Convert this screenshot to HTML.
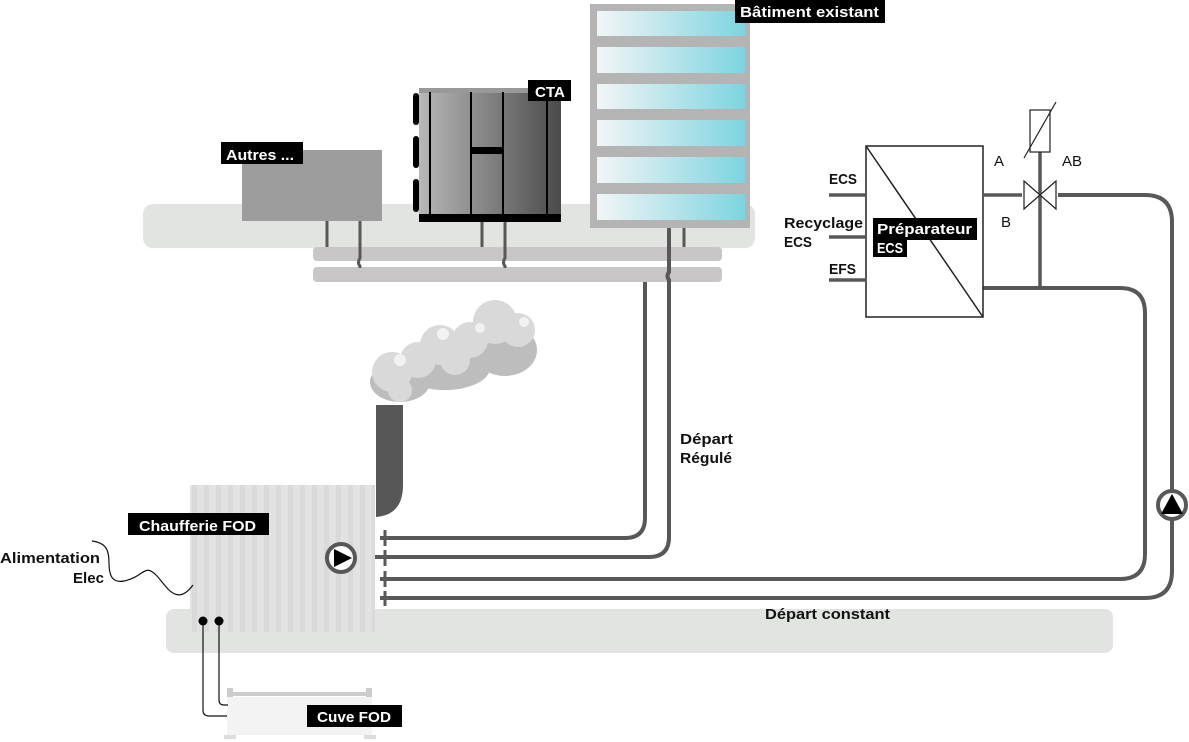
<!DOCTYPE html>
<html><head><meta charset="utf-8"><style>
html,body{margin:0;padding:0;background:#fff;}
svg{display:block;font-family:"Liberation Sans",sans-serif;}
.lb{fill:#fff;font-weight:bold;font-size:15px;}
.tk{fill:#111;font-weight:bold;font-size:15px;}
.p{fill:none;stroke:#585858;stroke-width:4;}
</style></head><body>
<svg width="1189" height="742" viewBox="0 0 1189 742" xmlns="http://www.w3.org/2000/svg">
<defs>
<linearGradient id="win" x1="0" x2="1"><stop offset="0" stop-color="#f3f5f6"/><stop offset="1" stop-color="#7dd4e0"/></linearGradient>
<linearGradient id="cta" x1="0" x2="1"><stop offset="0" stop-color="#b8b8b8"/><stop offset="1" stop-color="#4a4a4a"/></linearGradient>
<pattern id="str" width="12" height="10" patternUnits="userSpaceOnUse"><rect width="12" height="10" fill="#e2e2e2"/><rect width="5" height="10" fill="#dadada"/></pattern>
</defs>
<rect x="143" y="204" width="612" height="44" rx="10" fill="#e1e4e1"/>
<rect x="166" y="609" width="947" height="44" rx="8" fill="#e1e4e1"/>
<rect x="313" y="247" width="409" height="14" rx="4" fill="#c8c6c7"/>
<rect x="313" y="267" width="409" height="15" rx="4" fill="#c8c6c7"/>
<rect x="242" y="150" width="140" height="71" fill="#9d9d9d"/>
<path class="p" d="M327 221V247M360 221V258q-3 5 0 8V268" style="stroke-width:3"/>
<rect x="221" y="142" width="82" height="22" fill="#000"/>
<text x="226" y="160" class="lb" textLength="68" lengthAdjust="spacingAndGlyphs">Autres ...</text>
<rect x="419" y="88" width="142" height="134" fill="url(#cta)"/>
<rect x="419" y="88" width="142" height="5" fill="#999"/>
<rect x="413" y="93" width="6" height="32" rx="3" fill="#000"/>
<rect x="413" y="136" width="6" height="32" rx="3" fill="#000"/>
<rect x="413" y="179" width="6" height="33" rx="3" fill="#000"/>
<path d="M430 92V214M471 92V214M503 92V214M547 92V214" stroke="#000" stroke-width="2"/>
<rect x="471" y="147" width="32" height="7" fill="#000"/>
<rect x="419" y="214" width="142" height="8" fill="#000"/>
<path class="p" d="M482 222V247M505 222V258q-3 5 0 8V268" style="stroke-width:3"/>
<rect x="528" y="80" width="43" height="21" fill="#000"/>
<text x="535" y="97" class="lb" textLength="30" lengthAdjust="spacingAndGlyphs">CTA</text>
<rect x="590" y="4" width="160" height="224" fill="#b5b4b5"/>
<rect x="597" y="11" width="148" height="25" fill="url(#win)"/>
<rect x="597" y="47" width="148" height="26" fill="url(#win)"/>
<rect x="597" y="84" width="148" height="25" fill="url(#win)"/>
<rect x="597" y="120" width="148" height="26" fill="url(#win)"/>
<rect x="597" y="157" width="148" height="26" fill="url(#win)"/>
<rect x="597" y="194" width="148" height="26" fill="url(#win)"/>
<rect x="735" y="0" width="150" height="23" fill="#000"/>
<text x="740" y="17" class="lb" textLength="139" lengthAdjust="spacingAndGlyphs">Bâtiment existant</text>
<path class="p" d="M684 228V247" style="stroke-width:3"/>
<path class="p" d="M645 282V518q0 20-20 20H380"/>
<path class="p" d="M669 228V272q-3 4 0 8V537q0 20-20 20H355"/>
<path class="p" d="M380 579H1120q25 0 25-25V313q0-25-25-25H983"/>
<path class="p" d="M380 598H1145q27 0 27-27V222q0-27-27-27H1058"/>
<circle cx="1172" cy="505" r="14" fill="#fff" stroke="#585858" stroke-width="4"/>
<path d="M1172 494L1183 514H1161Z" fill="#000"/>
<rect x="866" y="146" width="117" height="171" fill="#fff" stroke="#222" stroke-width="1.5"/>
<path d="M866 146L983 317" stroke="#222" stroke-width="1.5"/>
<path class="p" d="M829 195H866M829 237H866M829 280H866M983 195H1022M1040 152V288" style="stroke-width:3.5"/>
<path d="M1024 181L1056 209V181L1024 209Z" fill="#fff" stroke="#222" stroke-width="1.2"/>
<rect x="1030" y="110" width="20" height="42" fill="#fff" stroke="#222" stroke-width="1.2"/>
<path d="M1024 158L1056 102" stroke="#222" stroke-width="1.2"/>
<path d="M873 218H977V240H907V257H873Z" fill="#000"/>
<text x="877" y="234" class="lb" textLength="95" lengthAdjust="spacingAndGlyphs">Préparateur</text>
<text x="877" y="253" class="lb" textLength="26" lengthAdjust="spacingAndGlyphs">ECS</text>
<text x="829" y="184" class="tk" textLength="28" lengthAdjust="spacingAndGlyphs">ECS</text>
<text x="784" y="228" class="tk" textLength="79" lengthAdjust="spacingAndGlyphs">Recyclage</text>
<text x="784" y="247" class="tk" textLength="28" lengthAdjust="spacingAndGlyphs">ECS</text>
<text x="829" y="274" class="tk" textLength="27" lengthAdjust="spacingAndGlyphs">EFS</text>
<text x="994" y="166" font-size="15" fill="#111">A</text>
<text x="1062" y="166" font-size="15" fill="#111">AB</text>
<text x="1001" y="227" font-size="15" fill="#111">B</text>
<g fill="#bdbdbd">
<ellipse cx="400" cy="382" rx="30" ry="20"/><ellipse cx="445" cy="368" rx="45" ry="22"/><ellipse cx="505" cy="350" rx="32" ry="26"/>
</g>
<g fill="#d9d9d9">
<circle cx="392" cy="372" r="20"/><circle cx="418" cy="360" r="18"/><circle cx="440" cy="345" r="20"/><circle cx="470" cy="340" r="18"/><circle cx="495" cy="322" r="22"/><circle cx="518" cy="330" r="17"/><circle cx="455" cy="360" r="15"/><circle cx="400" cy="390" r="12"/>
</g>
<g fill="#f2f2f2"><circle cx="400" cy="360" r="6"/><circle cx="443" cy="334" r="6"/><circle cx="524" cy="322" r="5"/><circle cx="480" cy="328" r="5"/></g>
<path d="M376 405H403V485q0 30-27 32Z" fill="#575757"/>
<rect x="190" y="485" width="185" height="147" fill="url(#str)"/>
<path d="M385 530V546M385 550V566M385 571V587M385 591V606" stroke="#585858" stroke-width="3"/>
<circle cx="341" cy="558" r="14" fill="#fff" stroke="#585858" stroke-width="4"/>
<path d="M334 549L352 558L334 567Z" fill="#000"/>
<rect x="128" y="513" width="141" height="22" fill="#000"/>
<text x="139" y="531" class="lb" textLength="117" lengthAdjust="spacingAndGlyphs">Chaufferie FOD</text>
<text x="0" y="563" class="tk" textLength="100" lengthAdjust="spacingAndGlyphs">Alimentation</text>
<text x="73" y="583" class="tk" textLength="31" lengthAdjust="spacingAndGlyphs">Elec</text>
<path d="M92 541c15 2 17 10 17 22c0 15 5 20 15 18c20-4 20-18 32-6c10 10 20 33 37 10" fill="none" stroke="#111" stroke-width="1.2"/>
<rect x="227" y="692" width="145" height="4" fill="#ccc"/>
<rect x="227" y="688" width="6" height="12" fill="#ccc"/><rect x="366" y="688" width="6" height="12" fill="#ccc"/>
<rect x="227" y="697" width="145" height="38" fill="#f3f3f3"/>
<rect x="224" y="735" width="12" height="4" fill="#ddd"/><rect x="364" y="735" width="12" height="4" fill="#ddd"/>
<path d="M203 621V710q0 6 6 6H227M219 621V700q0 5 5 5H228" fill="none" stroke="#111" stroke-width="1.2"/>
<circle cx="203" cy="621" r="4.5" fill="#000"/><circle cx="219" cy="621" r="4.5" fill="#000"/>
<rect x="307" y="705" width="95" height="22" fill="#000"/>
<text x="317" y="722" class="lb" textLength="74" lengthAdjust="spacingAndGlyphs">Cuve FOD</text>
<text x="680" y="444" class="tk" textLength="53" lengthAdjust="spacingAndGlyphs">Départ</text>
<text x="680" y="463" class="tk" textLength="52" lengthAdjust="spacingAndGlyphs">Régulé</text>
<text x="765" y="619" class="tk" textLength="125" lengthAdjust="spacingAndGlyphs">Départ constant</text>
</svg>
</body></html>
